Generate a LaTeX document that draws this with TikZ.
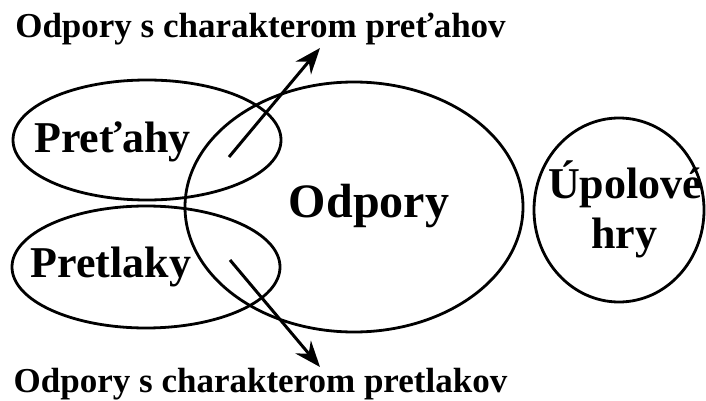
\documentclass[tikz,border=0pt]{standalone}
\usepackage{fontspec}
\setmainfont{Liberation Serif}
\usetikzlibrary{arrows.meta,shapes.geometric}
\begin{document}
\begin{tikzpicture}[x=1pt,y=-1pt,
  ring/.style={draw=black,line width=2.8pt,ellipse,inner sep=0pt},
  lbl/.style={inner sep=0pt,anchor=base,font=\bfseries\fontsize{44}{48}\selectfont},
  captext/.style={inner sep=0pt,anchor=base,font=\bfseries\fontsize{35}{40}\selectfont},
  arr/.style={line width=3pt,-{Stealth[length=26pt,width=20pt]}}]
\useasboundingbox (0,0) rectangle (706,401);
% shapes
\node[ring,minimum width=268pt,minimum height=120pt] (pretahy) at (147,140) {};
\node[ring,minimum width=268pt,minimum height=122pt] (pretlaky) at (146,267) {};
\node[ring,minimum width=338pt,minimum height=250pt] (odpory) at (354,207) {};
\node[ring,minimum width=170pt,minimum height=184pt] (upol) at (619,210) {};
% labels
\node[lbl] (tpretahy) at (112.5,152) {Preťahy};
\node[lbl] (tpretlaky) at (111,277) {Pretlaky};
\node[lbl,font=\bfseries\fontsize{48}{52}\selectfont] (todpory) at (369,217) {Odpory};
\node[lbl] (tupol1) at (625,198) {Úpolové};
\node[lbl] (tupol2) at (624.5,248) {hry};
\node[captext] (ttop) at (260.5,38) {Odpory s charakterom preťahov};
\node[captext] (tbot) at (260.5,392) {Odpory s charakterom pretlakov};
% arrows
\coordinate (a1s) at (229,157);
\coordinate (a1e) at (320,48);
\coordinate (a2s) at (230,260);
\coordinate (a2e) at (320,367);
\draw[arr] (a1s) -- (a1e);
\draw[arr] (a2s) -- (a2e);
\end{tikzpicture}
\end{document}
